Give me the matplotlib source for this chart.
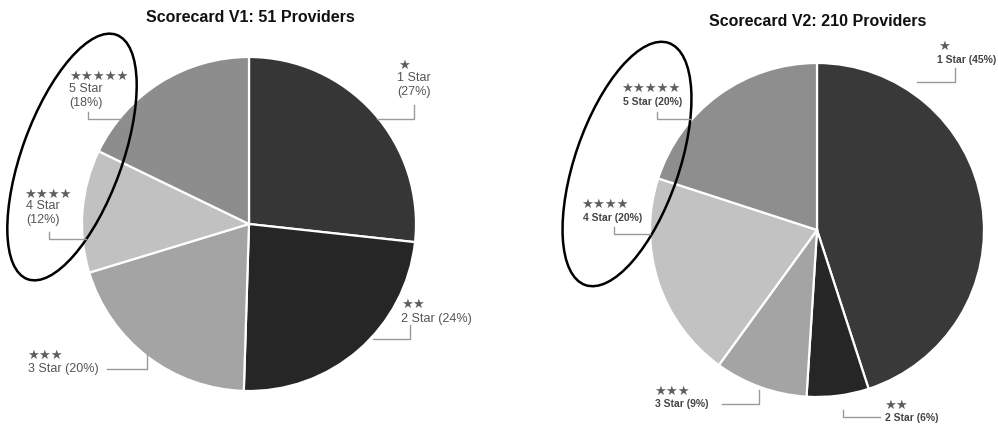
import matplotlib
matplotlib.use("Agg")
import matplotlib.pyplot as plt
from matplotlib.patches import Ellipse

# Provider ratings by star level
star_levels = [1, 2, 3, 4, 5]
star_names = ["1 Star", "2 Star", "3 Star", "4 Star", "5 Star"]
pct_v1 = [27, 24, 20, 12, 18]
pct_v2 = [45, 6, 9, 20, 20]
titles = ["Scorecard V1: 51 Providers", "Scorecard V2: 210 Providers"]

colors_v1 = ["#363636", "#262626", "#a4a4a4", "#c1c1c1", "#8d8d8d"]
colors_v2 = ["#393939", "#262626", "#a4a4a4", "#c2c2c2", "#8e8e8e"]

W, H = 998, 426
fig = plt.figure(figsize=(W / 100, H / 100), dpi=100)
fig.patch.set_facecolor("white")


def pie_axes(cx, cy, r):
    return fig.add_axes([(cx - r) / W, (H - cy - r) / H, 2 * r / W, 2 * r / H])


def draw_pie(ax, values, colors):
    ax.pie(values, colors=colors, startangle=90, counterclock=False,
           wedgeprops=dict(edgecolor="white", linewidth=1.6))
    ax.set_xlim(-1, 1)
    ax.set_ylim(-1, 1)
    ax.set_aspect("equal")
    ax.axis("off")


ax1 = pie_axes(249, 224, 167)
draw_pie(ax1, pct_v1, colors_v1)
ax2 = pie_axes(817, 230, 167)
draw_pie(ax2, pct_v2, colors_v2)

# overlay in pixel units for titles, labels, leaders and highlight ellipses
ov = fig.add_axes([0, 0, 1, 1], zorder=5)
ov.set_xlim(0, W)
ov.set_ylim(H, 0)
ov.axis("off")
ov.patch.set_alpha(0)

ov.text(250, 18, titles[0], ha="center", va="center", fontsize=11.5,
        fontweight="bold", family="Liberation Sans", color="#111111")
ov.text(818, 22, titles[1], ha="center", va="center", fontsize=11.5,
        fontweight="bold", family="Liberation Sans", color="#111111")

STAR_C = "#5e5e5e"
LEAD_C = "#9a9a9a"

# left chart label layout: (star x, star y, text x, text y, two-line, leader path)
layout_v1 = [
    (398, 65, 397, 85, True, [(414, 105), (414, 119), (377, 119)]),
    (401, 304, 401, 319, False, [(410, 325), (410, 339), (373, 339)]),
    (27, 355, 28, 369, False, [(107, 369), (147, 369), (147, 353)]),
    (24, 194, 26, 213, True, [(49, 232), (49, 239), (86, 239)]),
    (69, 76, 69, 96, True, [(88, 112), (88, 119), (122, 119)]),
]
for lvl, name, p, (sx, sy, tx, ty, two, path) in zip(star_levels, star_names, pct_v1, layout_v1):
    ov.text(sx, sy, "\u2605" * lvl, ha="left", va="center", fontsize=9.5,
            family="DejaVu Sans", color=STAR_C)
    label = f"{name}\n({p}%)" if two else f"{name} ({p}%)"
    ov.text(tx, ty, label, ha="left", va="center", fontsize=9,
            family="Liberation Sans", color="#555555", linespacing=1.15)
    xs, ys = zip(*path)
    ov.plot(xs, ys, color=LEAD_C, lw=1)

# right chart label layout
layout_v2 = [
    (938, 46, 937, 60, [(955, 68), (955, 82), (917, 82)]),
    (884, 405, 885, 418, [(843, 410), (843, 417), (880, 417)]),
    (654, 391, 655, 404, [(722, 404), (759, 404), (759, 390)]),
    (581, 204, 583, 218, [(614, 227), (614, 234), (650, 234)]),
    (621, 88, 623, 102, [(657, 112), (657, 119), (690, 119)]),
]
for lvl, name, p, (sx, sy, tx, ty, path) in zip(star_levels, star_names, pct_v2, layout_v2):
    ov.text(sx, sy, "\u2605" * lvl, ha="left", va="center", fontsize=9.5,
            family="DejaVu Sans", color=STAR_C)
    ov.text(tx, ty, f"{name} ({p}%)", ha="left", va="center", fontsize=7.5,
            fontweight="bold", family="Liberation Sans", color="#444444")
    xs, ys = zip(*path)
    ov.plot(xs, ys, color=LEAD_C, lw=1)

# highlight ellipses around the 4 and 5 star groups
ov.add_patch(Ellipse((72, 157), 100, 260, angle=20, fill=False,
                     edgecolor="black", lw=1.8))
ov.add_patch(Ellipse((627, 164), 104, 256, angle=19, fill=False,
                     edgecolor="black", lw=1.8))

fig.savefig("out.png", dpi=100)
